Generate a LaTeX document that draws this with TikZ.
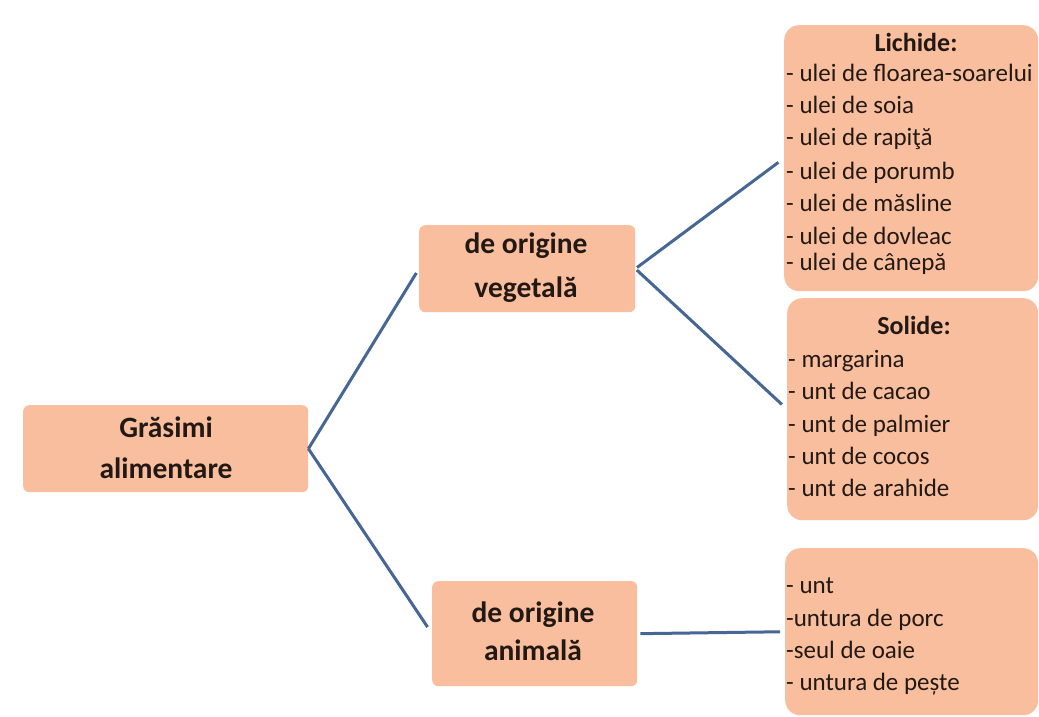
\documentclass[tikz,border=0pt]{standalone}
\usepackage{fontspec}
\setmainfont{Carlito}
\definecolor{boxfill}{RGB}{249,190,158}
\definecolor{linkcol}{RGB}{70,102,148}
\definecolor{txt}{RGB}{35,25,20}
\begin{document}
\begin{tikzpicture}[x=1pt,y=-1pt,
  box/.style={fill=boxfill, draw=none, rounded corners=6pt, inner sep=0pt, anchor=north west},
  listbox/.style={box, rounded corners=15pt},
  link/.style={draw=linkcol, line width=3pt},
  head/.style={font=\fontsize{29.5}{29.5}\selectfont\bfseries, text=txt, anchor=base, inner sep=0pt},
  subhead/.style={font=\fontsize{26}{26}\selectfont\bfseries, text=txt, anchor=base, inner sep=0pt},
  item/.style={font=\fontsize{25}{25}\selectfont, text=txt, anchor=base west, inner sep=0pt}]
\fill[white] (0,0) rectangle (1039,716);
\useasboundingbox (0,0) rectangle (1039,716);
% boxes
\node[box, minimum width=285pt, minimum height=87pt] (root) at (23,405) {};
\node[box, minimum width=216pt, minimum height=87pt] (veg) at (419,225) {};
\node[box, minimum width=205pt, minimum height=105pt] (ani) at (432,581) {};
\node[listbox, minimum width=254pt, minimum height=266pt] (liq) at (784,25) {};
\node[listbox, minimum width=251pt, minimum height=222pt] (sol) at (787,298) {};
\node[listbox, minimum width=253pt, minimum height=167pt] (anl) at (785,548) {};
% connectors
\draw[link, shorten >=5pt] (root.east) -- (veg.west);
\draw[link, shorten >=8pt] (root.east) -- (ani.west);
\draw[link, shorten <=2pt, shorten >=7pt] (veg.east) -- (liq.west);
\draw[link, shorten <=2pt, shorten >=7pt] (veg.east) -- (sol.west);
\draw[link, shorten <=3pt, shorten >=5pt] (ani.east) -- (anl.west);
% headings
\node[head] (rootA) at (166,437) {Grăsimi};
\node[head] (rootB) at (166,478) {alimentare};
\node[head] (vegA) at (526,253) {de origine};
\node[head] (vegB) at (526,297) {vegetală};
\node[head] (aniA) at (533,622) {de origine};
\node[head] (aniB) at (533,660) {animală};
% lichide
\node[subhead] (liqH) at (916,51) {Lichide:};
\foreach \yy/\t [count=\i] in {81/{- ulei de floarea-soarelui}, 113/{- ulei de soia}, 145/{- ulei de rapiţă}, 179/{- ulei de porumb}, 211/{- ulei de măsline}, 244/{- ulei de dovleac}, 270/{- ulei de cânepă}}
  \node[item] (liq\i) at (786,\yy) {\t};
% solide
\node[subhead] (solH) at (914,334) {Solide:};
\foreach \yy/\t [count=\i] in {367/{- margarina}, 399/{- unt de cacao}, 432/{- unt de palmier}, 464/{- unt de cocos}, 496/{- unt de arahide}}
  \node[item] (sol\i) at (788,\yy) {\t};
% animal list
\foreach \yy/\t [count=\i] in {593/{- unt}, 626/{-untura de porc}, 658/{-seul de oaie}, 690/{- untura de pește}}
  \node[item] (anl\i) at (786,\yy) {\t};
\end{tikzpicture}
\end{document}
